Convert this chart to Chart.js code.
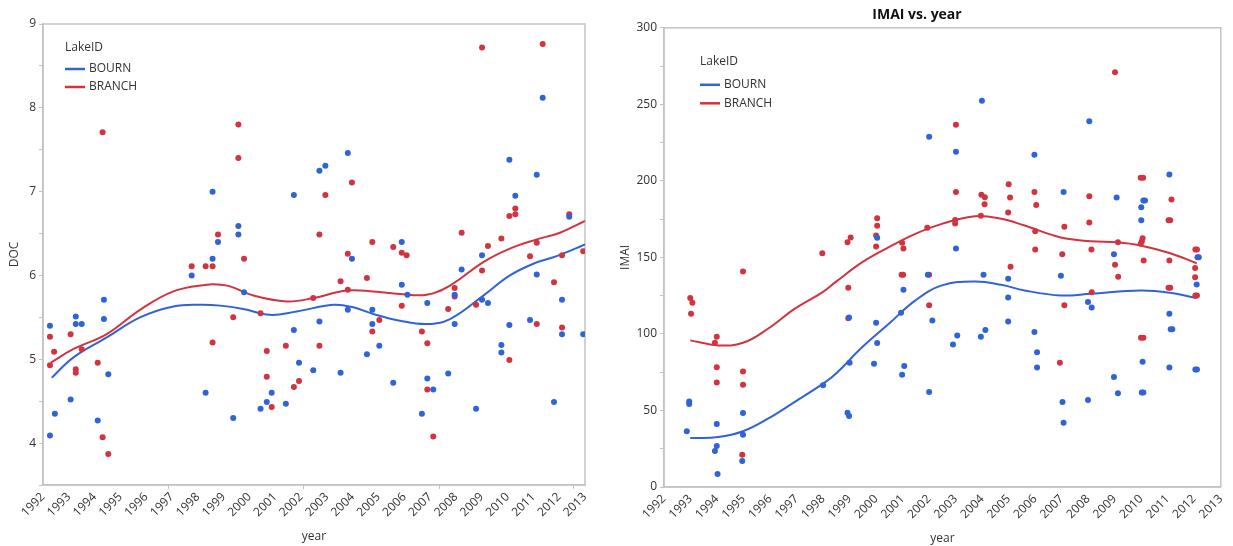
<!DOCTYPE html>
<html><head><meta charset="utf-8">
<script src="https://cdn.jsdelivr.net/npm/chart.js@4.4.1/dist/chart.umd.min.js"></script>
<style>
html,body{margin:0;padding:0;background:#fff;width:1233px;height:546px;overflow:hidden}
canvas{position:absolute;top:0}
#c1{left:0}
#c2{left:605px}
</style></head><body>
<canvas id="c1" width="600" height="546"></canvas>
<canvas id="c2" width="628" height="546"></canvas>
<script>
// ---------- tick labels ----------
const yearLabels = [1992,1993,1994,1995,1996,1997,1998,1999,2000,2001,2002,2003,2004,2005,2006,2007,2008,2009,2010,2011,2012,2013];
const seriesNames = ['BOURN','BRANCH'];

// ---------- DOC chart ----------
const docBournYear = [1992.27,1992.27,1992.46,1993.07,1993.27,1993.27,1993.50,1994.12,1994.36,1994.36,1994.53,1997.76,1998.30,1998.57,1998.57,1998.78,1999.37,1999.57,1999.57,1999.79,2000.43,2000.67,2000.86,2001.41,2001.72,2001.72,2001.92,2002.47,2002.71,2002.94,2002.71,2003.53,2003.81,2003.97,2003.81,2004.55,2004.76,2004.76,2005.03,2005.57,2005.90,2005.90,2006.12,2006.68,2006.89,2006.89,2007.12,2007.70,2007.95,2007.95,2008.22,2008.78,2009.01,2009.01,2009.24,2009.76,2009.76,2010.07,2010.30,2010.07,2010.87,2011.13,2011.13,2011.36,2011.80,2012.11,2012.11,2012.39,2012.93];
const docBournVal = [5.40,4.09,4.35,4.52,5.51,5.42,5.42,4.27,5.71,5.48,4.82,6.00,4.60,6.20,7.00,6.40,4.30,6.59,6.49,5.80,4.41,4.49,4.60,4.47,6.96,5.35,4.96,4.87,7.25,7.31,5.45,4.84,7.46,6.20,5.59,5.06,5.59,5.42,5.16,4.72,6.40,5.89,5.77,4.35,5.67,4.77,4.64,4.83,5.42,5.77,6.07,4.41,6.24,5.71,5.67,5.17,5.08,7.38,6.95,5.41,5.47,7.20,6.01,8.12,4.49,5.71,5.30,6.70,5.30];
const docBranchYear = [1992.27,1992.27,1992.43,1993.07,1993.27,1993.27,1993.50,1994.12,1994.31,1994.31,1994.53,1997.76,1998.30,1998.57,1998.57,1998.78,1999.37,1999.57,1999.57,1999.79,2000.43,2000.67,2000.67,2000.86,2001.41,2001.72,2001.92,2002.47,2002.71,2002.94,2002.71,2003.53,2003.81,2003.81,2003.97,2004.55,2004.76,2004.76,2005.03,2005.57,2005.90,2005.90,2006.09,2006.68,2006.89,2006.89,2007.12,2007.70,2007.95,2007.95,2008.22,2008.78,2009.01,2009.01,2009.24,2009.76,2010.07,2010.30,2010.30,2010.07,2010.87,2011.13,2011.13,2011.36,2011.80,2012.11,2012.11,2012.39,2012.93];
const docBranchVal = [5.27,4.93,5.09,5.30,4.88,4.84,5.12,4.96,7.71,4.07,3.87,6.11,6.11,6.11,5.20,6.49,5.50,7.80,7.40,6.20,5.55,5.10,4.79,4.43,5.16,4.67,4.74,5.73,6.49,6.96,5.16,5.93,5.83,6.26,7.11,5.97,6.40,5.33,5.47,6.34,6.27,5.64,6.24,5.33,5.19,4.64,4.08,5.60,5.85,5.75,6.51,5.65,8.72,6.06,6.35,6.44,6.71,6.80,6.73,4.99,6.23,6.39,5.42,8.76,5.92,6.24,5.38,6.73,6.29];
const docBournFitYear = [1992.34,1993.17,1994.47,1995.76,1997.05,1998.08,1998.86,1999.76,2000.79,2001.83,2003.25,2004.02,2004.80,2005.83,2006.87,2007.77,2009.06,2010.09,2011.00,2011.90,2013.00];
const docBournFitVal  = [4.78,5.02,5.26,5.50,5.63,5.65,5.64,5.60,5.53,5.57,5.65,5.62,5.54,5.46,5.42,5.48,5.76,6.00,6.14,6.23,6.37];
const docBranchFitYear = [1992.30,1993.17,1994.47,1995.76,1997.05,1998.34,1998.86,1999.25,2000.15,2001.44,2002.47,2003.77,2004.80,2005.83,2006.87,2007.77,2009.06,2010.09,2011.13,2012.03,2013.00];
const docBranchFitVal  = [4.96,5.12,5.30,5.59,5.81,5.89,5.89,5.87,5.76,5.69,5.73,5.82,5.81,5.78,5.77,5.88,6.16,6.32,6.43,6.51,6.65];
const docExtraTicks = [1996.85,2002.09,2007.35,2012.55];

// ---------- IMAI chart ----------
const imaiBournYear = [1992.86,1992.95,1992.95,1993.99,1993.99,1993.92,1994.02,1994.98,1994.98,1994.95,1998.00,1998.92,1998.98,1998.98,1999.00,2000.04,2000.00,2000.04,1999.92,2001.03,2000.94,2001.06,2000.98,2002.00,2001.95,2002.12,2002.00,2003.01,2003.01,2003.06,2002.90,2003.99,2004.05,2004.12,2003.95,2004.98,2004.98,2004.98,2005.97,2005.97,2006.07,2006.07,2007.07,2006.97,2007.03,2007.07,2008.04,2007.99,2008.13,2007.99,2009.07,2008.97,2008.97,2009.12,2010.00,2010.08,2010.14,2010.00,2010.05,2010.02,2010.08,2011.06,2011.06,2011.11,2011.17,2011.06,2012.12,2012.17,2012.09,2012.04,2012.10];
const imaiBournVal = [36.4,55.9,54.2,41.1,26.8,23.5,8.5,48.3,34.2,17.0,66.4,48.5,46.4,110.8,81.2,162.8,107.3,94.0,80.5,128.8,113.8,79.0,73.4,228.9,138.6,108.8,62.0,219.1,155.8,99.0,93.1,252.4,138.6,102.5,98.2,136.0,123.8,108.2,217.0,101.2,88.1,78.1,192.8,138.0,55.5,42.0,238.9,120.8,117.3,56.8,189.1,152.1,71.8,61.2,182.8,187.1,187.1,174.3,81.8,61.8,61.8,204.1,113.2,103.1,103.1,78.1,150.1,150.1,132.3,76.8,76.8];
const imaiBranchYear = [1992.99,1993.07,1993.02,1993.99,1993.92,1993.99,1993.99,1994.98,1994.98,1994.98,1994.95,1997.97,1998.92,1999.04,1998.95,1998.95,2000.04,2000.04,2000.00,2000.00,2000.98,2001.03,2000.96,2001.02,2001.93,2002.00,2002.00,2003.01,2003.01,2002.98,2002.98,2003.97,2004.10,2004.09,2003.95,2005.00,2005.05,2004.98,2005.07,2005.97,2006.04,2006.00,2006.00,2007.10,2007.02,2007.10,2006.93,2008.04,2008.04,2008.12,2008.13,2009.01,2009.12,2009.01,2009.13,2009.98,2010.07,2010.05,2010.02,2009.98,2010.09,2009.99,2010.08,2011.14,2011.03,2011.09,2011.06,2011.03,2011.09,2012.04,2012.10,2012.03,2012.03,2012.04,2012.10];
const imaiBranchVal = [123.4,120.3,113.2,98.2,94.2,78.3,68.3,140.8,75.5,66.8,21.1,152.7,159.9,163.0,130.2,110.3,175.6,170.6,164.3,157.1,159.5,155.8,138.6,138.6,169.3,138.6,118.8,236.7,192.8,174.5,172.1,190.9,189.3,184.7,177.2,197.8,189.1,179.3,143.9,192.8,184.3,167.1,155.2,170.0,152.1,118.8,81.2,190.0,172.8,155.2,127.3,270.9,159.9,145.2,137.3,202.0,202.0,162.5,160.4,158.9,148.0,97.5,97.5,187.8,174.3,174.3,148.0,130.2,130.2,155.2,155.2,143.0,137.1,125.1,125.1];
const imaiBournFitYear = [1992.99,1994.05,1994.98,1995.92,1996.92,1998.00,1998.48,1999.48,2000.48,2001.48,2002.48,2003.73,2004.72,2005.60,2006.97,2008.09,2009.97,2011.09,2012.09];
const imaiBournFitVal  = [32.0,32.6,36.4,44.6,55.5,67.5,74.0,91.4,106.6,121.9,131.7,134.3,132.1,128.4,125.1,126.2,128.4,126.9,123.4];
const imaiBranchFitYear = [1992.99,1994.05,1994.98,1995.92,1996.92,1998.00,1998.48,1999.48,2000.48,2001.48,2002.48,2003.73,2004.72,2005.60,2006.97,2008.09,2009.09,2009.97,2011.09,2012.09];
const imaiBranchFitVal  = [95.8,92.5,94.2,103.4,116.4,127.5,134.0,146.9,156.7,165.4,171.9,176.9,175.2,170.8,163.0,160.6,159.9,157.8,152.7,146.2];

// ---------- styling ----------
const BLUE = '#2f63d8';
const RED = '#d2333f';
const FRAME = '#c3c3c3';
const TEXT = '#333333';
const FONT = "'Segoe UI', 'Open Sans', sans-serif";
Chart.defaults.font.family = FONT;
Chart.defaults.font.size = 12;
Chart.defaults.color = TEXT;

function zip(xs, ys){ return xs.map((x,i)=>({x:x, y:ys[i]})); }

const framePlugin = {
  id:'frame',
  beforeDatasetsDraw(chart){
    const a = chart.chartArea, ctx = chart.ctx;
    ctx.save();
    ctx.strokeStyle = FRAME; ctx.lineWidth = 1.5;
    ctx.strokeRect(a.left, a.top, a.right-a.left, a.bottom-a.top);
    ctx.restore();
  }
};
const legendPlugin = {
  id:'lakeLegend',
  afterDraw(chart, args, o){
    const a = chart.chartArea, ctx = chart.ctx;
    const x = a.left + o.dx, y = a.top + o.dy;
    ctx.save();
    ctx.font = '12px ' + FONT;
    ctx.fillStyle = TEXT;
    ctx.textBaseline = 'middle';
    ctx.textAlign = 'left';
    ctx.fillText('LakeID', x, y);
    [BLUE, RED].forEach((c,i)=>{
      const yy = y + o.first + i*o.gap;
      ctx.strokeStyle = c; ctx.lineWidth = 2.5;
      ctx.beginPath(); ctx.moveTo(x, yy); ctx.lineTo(x+20, yy); ctx.stroke();
      ctx.fillStyle = TEXT;
      ctx.fillText(seriesNames[i], x+24, yy);
    });
    ctx.restore();
  }
};
const extraTicksPlugin = {
  id:'extraTicks',
  afterDraw(chart, args, o){
    if(!o.values) return;
    const xs = chart.scales.x, ctx = chart.ctx, b = chart.chartArea.bottom;
    ctx.save(); ctx.strokeStyle = FRAME; ctx.lineWidth = 1;
    o.values.forEach(v=>{
      const px = Math.round(xs.getPixelForValue(v)) + 0.5;
      ctx.beginPath(); ctx.moveTo(px, b); ctx.lineTo(px, b+4); ctx.stroke();
    });
    ctx.restore();
  }
};

function makeChart(id, cfg){
  const datasets = [
    {label:'BOURN', data: zip(cfg.bx, cfg.by), backgroundColor: BLUE, borderColor: BLUE, pointRadius: 3, pointBorderWidth: 0, order: 0},
    {label:'BRANCH', data: zip(cfg.rx, cfg.ry), backgroundColor: RED, borderColor: RED, pointRadius: 3, pointBorderWidth: 0, order: 0},
    {label:'BOURN fit', data: zip(cfg.bfx, cfg.bfy), showLine: true, borderColor: BLUE, borderWidth: 2, pointRadius: 0, tension: 0.4, order: 1},
    {label:'BRANCH fit', data: zip(cfg.rfx, cfg.rfy), showLine: true, borderColor: RED, borderWidth: 2, pointRadius: 0, tension: 0.4, order: 1}
  ];
  return new Chart(document.getElementById(id), {
    type: 'scatter',
    data: { datasets },
    plugins: [framePlugin, legendPlugin, extraTicksPlugin],
    options: {
      responsive: false, animation: false, devicePixelRatio: 1,
      layout: { padding: cfg.padding },
      plugins: {
        legend: { display: false }, tooltip: { enabled: false },
        title: cfg.title ? { display: true, text: cfg.title, color: '#111', font: { size: 14, weight: 'bold', family: FONT }, padding: { top: 7, bottom: 4 } } : { display: false },
        lakeLegend: cfg.legend,
        extraTicks: { values: cfg.extraTicks }
      },
      scales: {
        x: {
          type: 'linear', min: 1992, max: 2013,
          afterFit(s){ s.height = cfg.xHeight; },
          grid: { drawOnChartArea: false, drawTicks: true, tickLength: 3, tickColor: 'rgba(0,0,0,0)' },
          border: { color: FRAME, width: 1.5 },
          ticks: { stepSize: 1, autoSkip: false, maxRotation: 45, minRotation: 45, padding: 2, color: TEXT,
            callback: v => yearLabels.includes(v) ? String(v) : '' },
          title: { display: true, text: 'year', color: TEXT, font: { size: 12 }, padding: { top: 0, bottom: cfg.xTitlePad } }
        },
        y: {
          type: 'linear', min: cfg.ymin, max: cfg.ymax,
          afterFit(s){ s.width = cfg.yWidth; },
          grid: { drawOnChartArea: false, drawTicks: true, tickLength: 4, tickColor: FRAME },
          border: { color: FRAME, width: 1.5 },
          ticks: { stepSize: cfg.ystep, padding: 3, color: TEXT,
            callback: v => cfg.yLabels.includes(v) ? String(v) : '' },
          title: { display: true, text: cfg.ytitle, color: TEXT, font: { size: 12 }, padding: { top: cfg.yTitlePad, bottom: 0 } }
        }
      }
    }
  });
}

const docTickLabels = [4,5,6,7,8,9];
const imaiTickLabels = [0,50,100,150,200,250,300];

makeChart('c1', {
  bx: docBournYear, by: docBournVal, rx: docBranchYear, ry: docBranchVal,
  bfx: docBournFitYear, bfy: docBournFitVal, rfx: docBranchFitYear, rfy: docBranchFitVal,
  ymin: 3.5, ymax: 9, ystep: 0.5, yLabels: docTickLabels, ytitle: 'DOC',
  padding: { left: 0, top: 24, right: 15, bottom: 0 },
  yWidth: 43, xHeight: 61, yTitlePad: 7, xTitlePad: 2,
  legend: { dx: 22, dy: 24, first: 21, gap: 18 },
  extraTicks: docExtraTicks
});
makeChart('c2', {
  bx: imaiBournYear, by: imaiBournVal, rx: imaiBranchYear, ry: imaiBranchVal,
  bfx: imaiBournFitYear, bfy: imaiBournFitVal, rfx: imaiBranchFitYear, rfy: imaiBranchFitVal,
  ymin: 0, ymax: 300, ystep: 25, yLabels: imaiTickLabels, ytitle: 'IMAI', title: 'IMAI vs. year',
  padding: { left: 0, top: 0, right: 4, bottom: 0 },
  yWidth: 59, xHeight: 59, yTitlePad: 13, xTitlePad: 0,
  legend: { dx: 36, dy: 34, first: 23, gap: 18.5 },
  extraTicks: null
});
</script>
</body></html>
